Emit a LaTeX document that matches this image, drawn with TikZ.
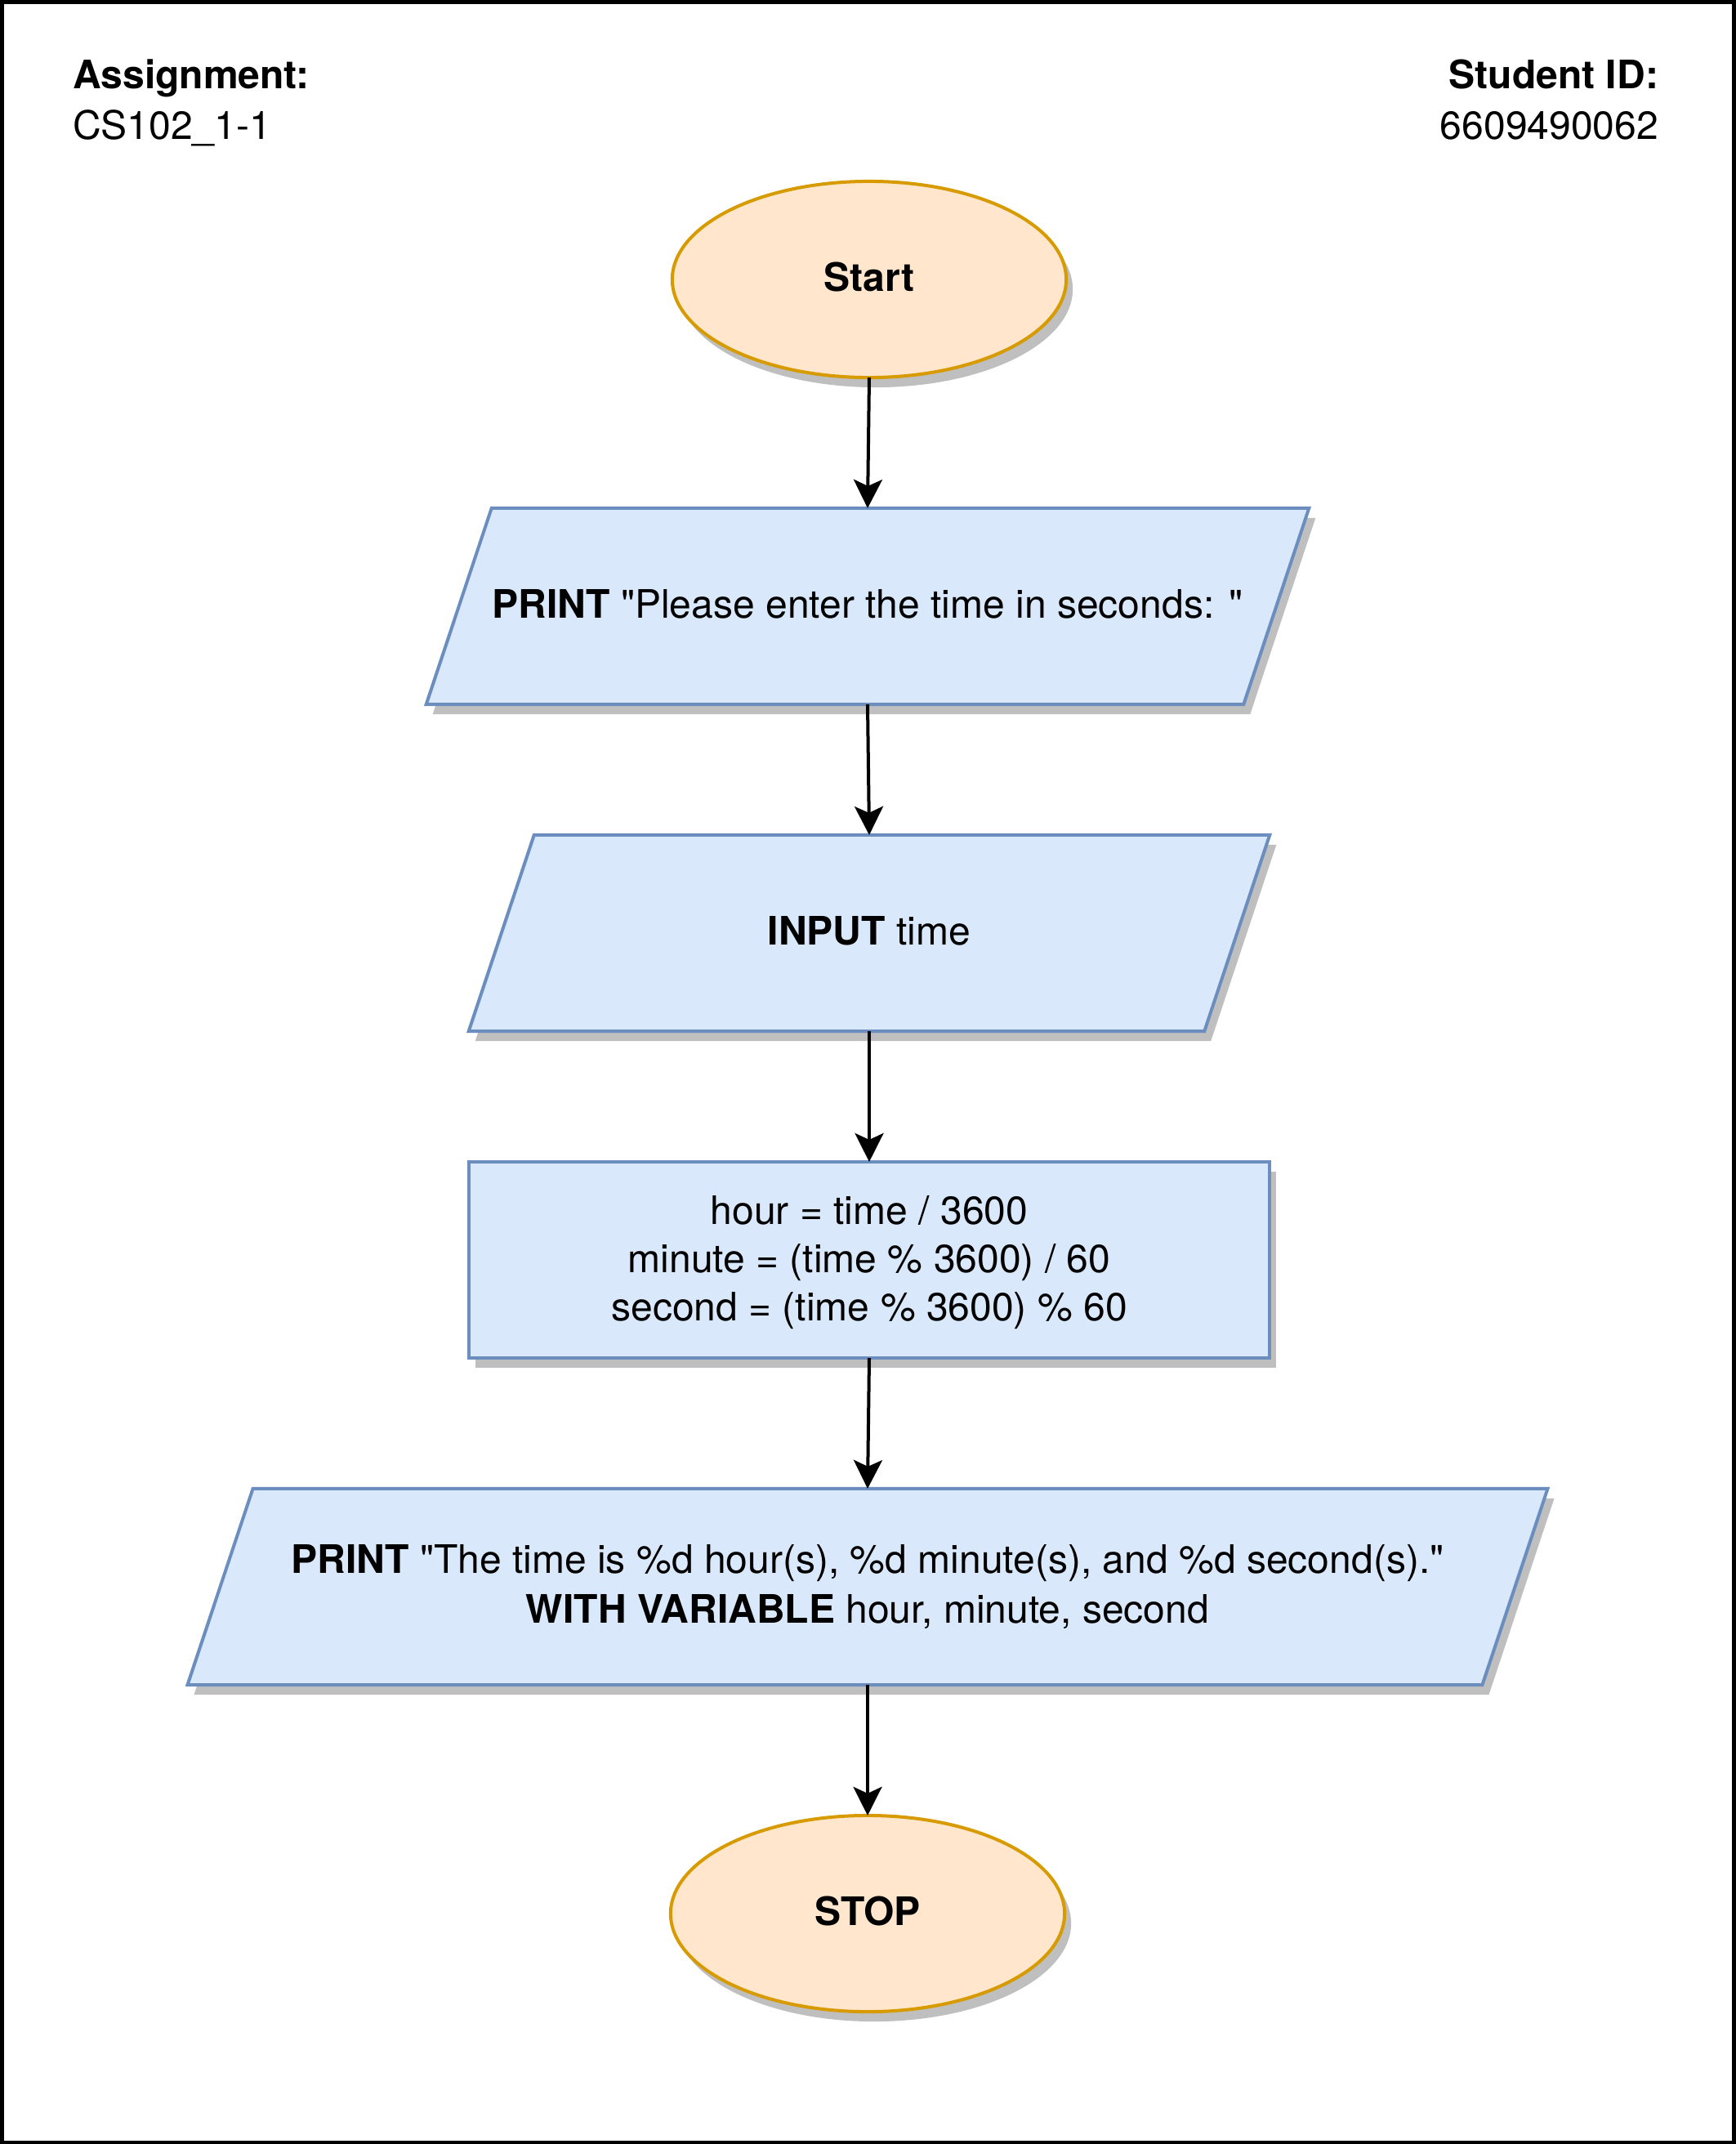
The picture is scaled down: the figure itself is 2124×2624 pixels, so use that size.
\documentclass[tikz,border=0pt]{standalone}
\usepackage{fontspec}
\setmainfont{TeX Gyre Heros}
\usetikzlibrary{arrows.meta,calc,shapes.geometric}
\pgfdeclarelayer{bg}
\pgfsetlayers{bg,main}
\definecolor{termfill}{HTML}{FFE6CC}
\definecolor{termline}{HTML}{D79B00}
\definecolor{iofill}{HTML}{DAE8FC}
\definecolor{ioline}{HTML}{6C8EBF}
\definecolor{shadowc}{HTML}{BFBFBF}
\newcommand{\dq}{\textquotedbl}
\begin{document}
\begin{tikzpicture}[x=0.01cm,y=-0.01cm,
  every node/.style={font=\fontsize{13.66}{17.07}\selectfont, inner sep=0pt, outer sep=0pt},
  lw/.style={line width=0.04cm},
  terminal/.style={ellipse, lw, draw=termline, fill=termfill, minimum width=4.82cm, minimum height=2.4cm, text depth=0.06cm, font=\fontsize{13.66}{17.07}\selectfont\bfseries},
  iotext/.style={minimum height=2.4cm, align=center},
  onelinetext/.style={text depth=0.06cm},
  procbox/.style={rectangle, lw, draw=ioline, fill=iofill, minimum width=9.8cm, minimum height=2.4cm, align=center, text depth=0.04cm, font=\fontsize{13.66}{16.7}\selectfont},
  paraline/.style={lw, draw=ioline, fill=iofill, line join=miter},
  shadowfill/.style={fill=shadowc},
  flow/.style={lw, -{Stealth[length=0.35cm, width=0.35cm, inset=0.08cm]}},
  hdr/.style={font=\fontsize{13.66}{17.07}\selectfont}
]
\useasboundingbox (0,0) rectangle (2124,2624);

% header
\node[hdr, anchor=base west] (asg) at (89,108) {\bfseries Assignment:};
\node[hdr, anchor=base west] (asgv) at (89,170) {CS102\_1-1};
\node[hdr, anchor=base east] (sid) at (2030,108) {\bfseries Student ID:};
\node[hdr, anchor=base east] (sidv) at (2030,170) {6609490062};

% start
\node[terminal] (start) at (1064,342) {Start};
% print 1
\node[iotext, onelinetext, minimum width=10cm] (p1) at (1062,742) {\textbf{PRINT} \dq Please enter the time in seconds: \dq};
% input
\node[iotext, onelinetext, minimum width=9cm] (p2) at (1064,1142) {\textbf{INPUT} time};
% process
\node[procbox] (calc) at (1064,1542) {hour = time / 3600\\minute = (time \% 3600) / 60\\second = (time \% 3600) \% 60};
% print 2
\node[iotext, minimum width=15.84cm] (p3) at (1062,1942) {\textbf{PRINT} \dq The time is \%d hour(s), \%d minute(s), and \%d second(s).\dq\\\textbf{WITH VARIABLE} hour, minute, second};
% stop
\node[terminal] (stop) at (1062,2342) {STOP};

\begin{pgfonlayer}{bg}
  \fill[white] (0,0) rectangle (2124,2624);
  % shadows
  \fill[shadowfill] ($(start.center)+(8,12)$) ellipse [x radius=2.41cm, y radius=1.2cm];
  \fill[shadowfill] ($(stop.center)+(8,12)$) ellipse [x radius=2.41cm, y radius=1.2cm];
  \fill[shadowfill] ($(calc.north west)+(8,12)$) rectangle ($(calc.south east)+(8,12)$);
  \foreach \n in {p1,p2,p3} {
    \fill[shadowfill] ($(\n.north west)+(48,12)$) -- ($(\n.north east)+(48,12)$) -- ($(\n.south east)+(-32,12)$) -- ($(\n.south west)+(-32,12)$) -- cycle;
  }
  % parallelograms
  \foreach \n in {p1,p2,p3} {
    \draw[paraline] ($(\n.north west)+(40,0)$) -- ($(\n.north east)+(40,0)$) -- ($(\n.south east)+(-40,0)$) -- ($(\n.south west)+(-40,0)$) -- cycle;
  }
\end{pgfonlayer}

\draw[line width=0.09cm] (0,0) rectangle (2124,2624);

% connectors
\draw[flow] (start.south) -- (p1.north);
\draw[flow] (p1.south) -- (p2.north);
\draw[flow] (p2.south) -- (calc.north);
\draw[flow] (calc.south) -- (p3.north);
\draw[flow] (p3.south) -- (stop.north);
\end{tikzpicture}
\end{document}
